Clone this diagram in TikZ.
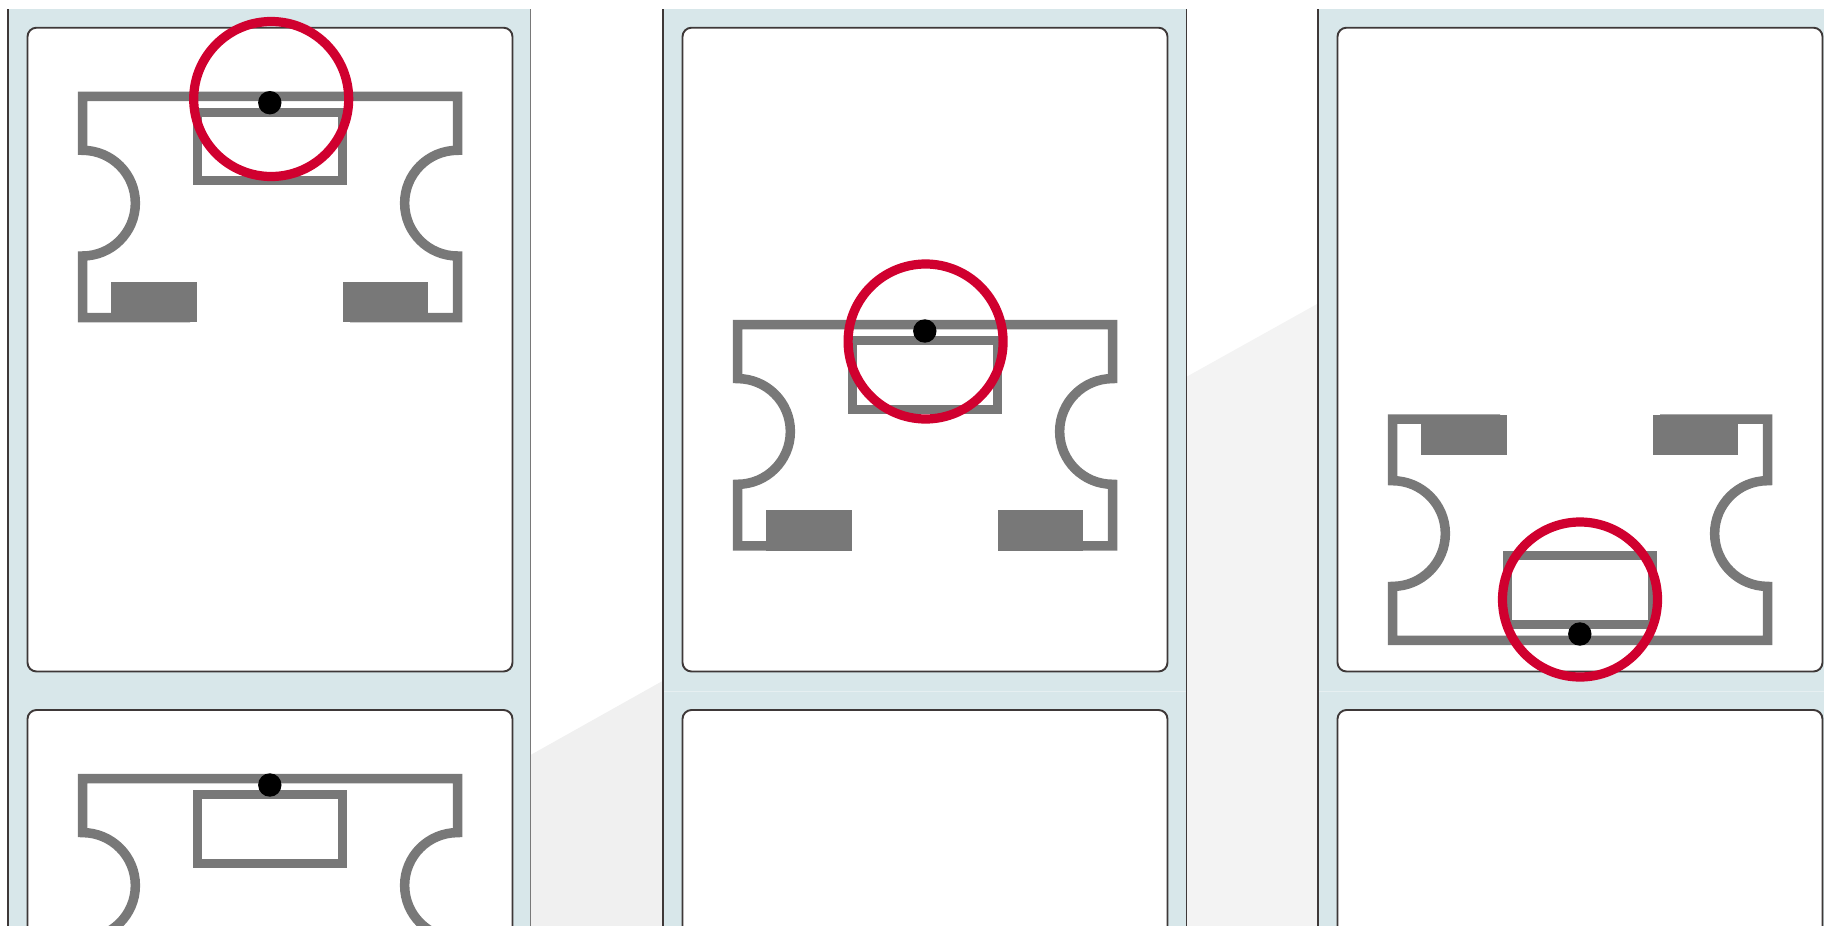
\documentclass[tikz,border=0pt]{standalone}
\usepackage{xcolor}
\usepackage{tikz}
\definecolor{stripbg}{RGB}{216,231,234}
\definecolor{cardline}{RGB}{62,56,56}
\definecolor{tagline}{RGB}{120,120,120}
\definecolor{ringred}{RGB}{208,0,47}
\definecolor{gutterA}{RGB}{240,240,240}
\definecolor{gutterB}{RGB}{243,243,243}
\definecolor{bandline}{RGB}{230,239,241}
\tikzset{
  stripfill/.style={fill=stripbg, draw=none},
  stripedge/.style={draw=cardline, line width=1.4pt},
  stripedgegray/.style={draw=tagline, line width=1.2pt},
  bandrule/.style={draw=bandline, line width=1pt},
  cardbox/.style={rectangle, rounded corners=9pt, draw=cardline, line width=1.9pt, fill=white},
  tagoutline/.style={draw=tagline, line width=9.5pt, miter limit=10},
  tagframe/.style={draw=tagline, line width=9pt},
  tagblock/.style={fill=tagline, draw=none},
  tagdot/.style={circle, fill=black, draw=none, inner sep=0pt, minimum size=23.4pt},
  ring/.style={circle, draw=ringred, line width=9.2pt, inner sep=0pt, minimum size=155pt},
}
% one tag outline with its window and two blocks, drawn in the scope's frame
\newcommand{\tagshape}{%
  \draw[tagoutline] (190,317.5) -- (82.5,317.5) -- (82.5,256)
    arc[start angle=90, end angle=-90, radius=52.85] -- (82.5,96.4)
    -- (457.5,96.4) -- (457.5,150.3)
    arc[start angle=270, end angle=90, radius=52.85] -- (457.5,317.5)
    -- (350,317.5);
  \draw[tagframe] (197.5,112.2) rectangle (342.5,180.8);
  \fill[tagblock] (111.4,282) rectangle (196.8,322.2);
  \fill[tagblock] (343,282) rectangle (428.4,322.2);
}
\begin{document}
\begin{tikzpicture}[x=1pt, y=-1pt]
  \useasboundingbox (0,0) rectangle (1824,926);
  \clip (0,0) rectangle (1824,926);
  % gray backdrop between the strips
  \fill[gutterA] (530.5,755) -- (663,680.7) -- (663,926) -- (530.5,926) -- cycle;
  \fill[gutterB] (1186.5,376.8) -- (1318,303.5) -- (1318,926) -- (1186.5,926) -- cycle;
  % strips
  \fill[stripfill] (8,9) rectangle (530,926);
  \fill[stripfill] (663,9) rectangle (1186.5,926);
  \fill[stripfill] (1318,9) rectangle (1824,926);
  \draw[bandrule] (663,691) -- (1186.5,691);
  \draw[bandrule] (1318,691) -- (1824,691);
  \draw[stripedge] (8,9) -- (8,926);
  \draw[stripedgegray] (530.3,9) -- (530.3,926);
  \draw[stripedge] (663,9) -- (663,926);
  \draw[stripedge] (1186.7,9) -- (1186.7,926);
  \draw[stripedge] (1317.8,9) -- (1317.8,926);
  % cards
  \foreach \dx in {0,655,1310}{
    \draw[cardbox] (27.5+\dx,27.7) rectangle (512.5+\dx,671.5);
    \draw[cardbox] (27.5+\dx,710) rectangle (512.5+\dx,1400);
  }
  % tags
  \tagshape
  \begin{scope}[shift={(0,682.3)}]
    \tagshape
  \end{scope}
  \begin{scope}[shift={(655,228.3)}]
    \tagshape
  \end{scope}
  \begin{scope}[shift={(1310,736.7)}, yscale=-1]
    \tagshape
  \end{scope}
  % dots
  \node[tagdot] (dota) at (269.8,102.7) {};
  \node[tagdot] (dotb) at (269.8,785) {};
  \node[tagdot] (dotc) at (924.8,331) {};
  \node[tagdot] (dotd) at (1579.8,634) {};
  % rings
  \node[ring] (ringa) at (271.2,99) {};
  \node[ring] (ringb) at (925.6,341.5) {};
  \node[ring] (ringc) at (1580,599.5) {};
\end{tikzpicture}
\end{document}
